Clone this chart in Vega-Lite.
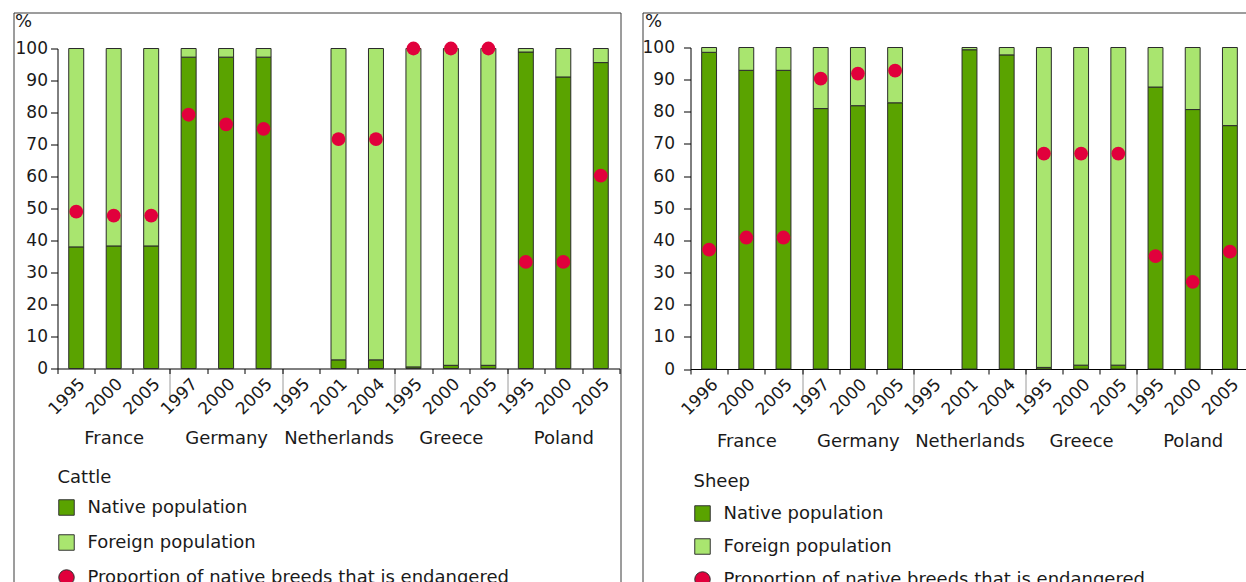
{
  "$schema": "https://vega.github.io/schema/vega-lite/v6.json",
  "padding": {"left": 11.5, "top": 11.5, "right": 0, "bottom": 0},
  "spacing": 19,
  "background": "white",
  "config": {
    "font": "DejaVu Sans",
    "view": {"stroke": null},
    "axis": {"labelColor": "#1a1a1a", "titleColor": "#1a1a1a", "domainColor": "#000", "tickColor": "#000", "grid": false, "domainWidth": 1, "tickWidth": 1}
  },
  "datasets": {
    "cattle": [
      {"key": "France-1995", "country": "France", "year": "1995", "native": 38, "foreign": 62, "endangered": 49},
      {"key": "France-2000", "country": "France", "year": "2000", "native": 38.3, "foreign": 61.7, "endangered": 47.8},
      {"key": "France-2005", "country": "France", "year": "2005", "native": 38.3, "foreign": 61.7, "endangered": 47.8},
      {"key": "Germany-1997", "country": "Germany", "year": "1997", "native": 97.3, "foreign": 2.7, "endangered": 79.3},
      {"key": "Germany-2000", "country": "Germany", "year": "2000", "native": 97.3, "foreign": 2.7, "endangered": 76.3},
      {"key": "Germany-2005", "country": "Germany", "year": "2005", "native": 97.3, "foreign": 2.7, "endangered": 74.9},
      {"key": "Netherlands-2001", "country": "Netherlands", "year": "2001", "native": 2.7, "foreign": 97.3, "endangered": 71.7},
      {"key": "Netherlands-2004", "country": "Netherlands", "year": "2004", "native": 2.7, "foreign": 97.3, "endangered": 71.7},
      {"key": "Greece-1995", "country": "Greece", "year": "1995", "native": 0.5, "foreign": 99.5, "endangered": 100},
      {"key": "Greece-2000", "country": "Greece", "year": "2000", "native": 1, "foreign": 99, "endangered": 100},
      {"key": "Greece-2005", "country": "Greece", "year": "2005", "native": 1, "foreign": 99, "endangered": 100},
      {"key": "Poland-1995", "country": "Poland", "year": "1995", "native": 98.9, "foreign": 1.1, "endangered": 33.3},
      {"key": "Poland-2000", "country": "Poland", "year": "2000", "native": 91.1, "foreign": 8.9, "endangered": 33.3},
      {"key": "Poland-2005", "country": "Poland", "year": "2005", "native": 95.6, "foreign": 4.4, "endangered": 60.3}
    ],
    "sheep": [
      {"key": "France-1996", "country": "France", "year": "1996", "native": 98.5, "foreign": 1.5, "endangered": 37.1},
      {"key": "France-2000", "country": "France", "year": "2000", "native": 92.9, "foreign": 7.1, "endangered": 40.9},
      {"key": "France-2005", "country": "France", "year": "2005", "native": 92.9, "foreign": 7.1, "endangered": 40.9},
      {"key": "Germany-1997", "country": "Germany", "year": "1997", "native": 81.0, "foreign": 19.0, "endangered": 90.3},
      {"key": "Germany-2000", "country": "Germany", "year": "2000", "native": 81.9, "foreign": 18.1, "endangered": 91.9},
      {"key": "Germany-2005", "country": "Germany", "year": "2005", "native": 82.8, "foreign": 17.2, "endangered": 92.8},
      {"key": "Netherlands-2001", "country": "Netherlands", "year": "2001", "native": 99.3, "foreign": 0.7, "endangered": null},
      {"key": "Netherlands-2004", "country": "Netherlands", "year": "2004", "native": 97.7, "foreign": 2.3, "endangered": null},
      {"key": "Greece-1995", "country": "Greece", "year": "1995", "native": 0.5, "foreign": 99.5, "endangered": 67},
      {"key": "Greece-2000", "country": "Greece", "year": "2000", "native": 1.2, "foreign": 98.8, "endangered": 67},
      {"key": "Greece-2005", "country": "Greece", "year": "2005", "native": 1.2, "foreign": 98.8, "endangered": 67},
      {"key": "Poland-1995", "country": "Poland", "year": "1995", "native": 87.7, "foreign": 12.3, "endangered": 35.1},
      {"key": "Poland-2000", "country": "Poland", "year": "2000", "native": 80.7, "foreign": 19.3, "endangered": 27.1},
      {"key": "Poland-2005", "country": "Poland", "year": "2005", "native": 75.7, "foreign": 24.3, "endangered": 36.5}
    ]
  },
  "resolve": {
    "scale": {"color": "independent", "shape": "independent", "x": "independent", "y": "independent"},
    "legend": {"color": "independent", "shape": "independent"}
  },
  "hconcat": [
    {
      "width": 607,
      "height": 570,
      "view": {"stroke": "#3a3a3a", "strokeWidth": 1, "strokeDash": [1177, 607, 570]},
      "data": {"name": "cattle"},
      "transform": [{"fold": ["native", "foreign", "endangered"], "as": ["series", "value"]}],
      "layer": [
        {
          "mark": {"type": "point", "opacity": 0},
          "encoding": {
            "x": {
              "field": "country", "type": "nominal",
              "scale": {"domain": ["France", "Germany", "Netherlands", "Greece", "Poland"], "range": [44, 606], "paddingInner": 0, "paddingOuter": 0},
              "axis": {"title": null, "orient": "bottom", "offset": -214, "domain": false, "ticks": true, "tickBand": "extent", "tickSize": 32, "tickColor": "#9a9a9a", "tickOpacity": {"condition": {"test": "datum.value === 'Poland' || !isValid(datum.value)", "value": 0}, "value": 1}, "labelAngle": 0, "labelFontSize": 18, "labelPadding": 29, "labelBaseline": "top"}
            }
          }
        },
        {
          "layer": [
            {
              "transform": [{"filter": "datum.series !== 'endangered'"}],
              "mark": {"type": "bar", "width": {"band": 0.4}, "stroke": "#2b2b2b", "strokeWidth": 1},
              "encoding": {
                "x": {
                  "field": "key", "type": "nominal",
                  "scale": {"domain": ["France-1995", "France-2000", "France-2005", "Germany-1997", "Germany-2000", "Germany-2005", "Netherlands-1995", "Netherlands-2001", "Netherlands-2004", "Greece-1995", "Greece-2000", "Greece-2005", "Poland-1995", "Poland-2000", "Poland-2005"], "range": [44, 606], "paddingInner": 0, "paddingOuter": 0},
                  "axis": {
                    "title": null, "orient": "bottom", "offset": -214,
                    "labelExpr": "split(datum.label, '-')[1]",
                    "labelAngle": -45, "labelFontSize": 17, "labelPadding": 2, "labelOverlap": false,
                    "tickBand": "extent", "tickSize": 5
                  }
                },
                "y": {
                  "field": "value", "type": "quantitative", "stack": "zero",
                  "scale": {"domain": [0, 100], "range": [356, 36], "nice": false},
                  "axis": {
                    "title": "%", "offset": -44, "values": [0, 10, 20, 30, 40, 50, 60, 70, 80, 90, 100],
                    "tickSize": 7, "labelFontSize": 17, "labelPadding": 3,
                    "titleAngle": 0, "titleX": -43, "titleY": 14, "titleAlign": "left", "titleBaseline": "alphabetic",
                    "titleFontSize": 18, "titleFontWeight": "normal"
                  }
                },
                "color": {
                  "field": "series", "type": "nominal",
                  "scale": {"domain": ["native", "foreign", "endangered"], "range": ["#5aa300", "#a9e56f", "#e1003c"]},
                  "legend": {
                    "title": "Cattle", "orient": "none", "legendX": 44, "legendY": 456, "direction": "vertical", "padding": 0,
                    "titleFontSize": 18, "titleFontWeight": "normal", "titleColor": "#1a1a1a", "titlePadding": 12,
                    "labelFontSize": 18, "labelColor": "#1a1a1a", "labelOffset": 12, "rowPadding": 15, "labelLimit": 600,
                    "symbolSize": 240, "symbolStrokeWidth": 1, "symbolStrokeColor": "#333333", "symbolOpacity": 1,
                    "labelExpr": "datum.label === 'native' ? 'Native population' : datum.label === 'foreign' ? 'Foreign population' : 'Proportion of native breeds that is endangered'"
                  }
                },
                "order": {"field": "series", "sort": "descending"}
              }
            },
            {
              "transform": [{"filter": "datum.series === 'endangered' && isValid(datum.value)"}],
              "mark": {"type": "point", "filled": true, "size": 190, "opacity": 1},
              "encoding": {
                "x": {"field": "key", "type": "nominal"},
                "y": {"field": "value", "type": "quantitative"},
                "color": {"field": "series", "type": "nominal"},
                "shape": {
                  "field": "series", "type": "nominal",
                  "scale": {"domain": ["native", "foreign", "endangered"], "range": ["square", "square", "circle"]},
                  "legend": {
                    "title": "Cattle", "orient": "none", "legendX": 44, "legendY": 456, "direction": "vertical", "padding": 0,
                    "titleFontSize": 18, "titleFontWeight": "normal", "titleColor": "#1a1a1a", "titlePadding": 12,
                    "labelFontSize": 18, "labelColor": "#1a1a1a", "labelOffset": 12, "rowPadding": 15, "labelLimit": 600,
                    "symbolSize": 240, "symbolStrokeWidth": 1, "symbolStrokeColor": "#333333", "symbolOpacity": 1,
                    "labelExpr": "datum.label === 'native' ? 'Native population' : datum.label === 'foreign' ? 'Foreign population' : 'Proportion of native breeds that is endangered'"
                  }
                }
              }
            }
          ]
        }
      ],
      "resolve": {"scale": {"x": "independent"}}
    },
    {
      "width": 606,
      "height": 570,
      "view": {"stroke": "#3a3a3a", "strokeWidth": 1, "strokeDash": [606, 1176, 570]},
      "data": {"name": "sheep"},
      "transform": [{"fold": ["native", "foreign", "endangered"], "as": ["series", "value"]}],
      "layer": [
        {
          "mark": {"type": "point", "opacity": 0},
          "encoding": {
            "x": {
              "field": "country", "type": "nominal",
              "scale": {"domain": ["France", "Germany", "Netherlands", "Greece", "Poland"], "range": [48, 606], "paddingInner": 0, "paddingOuter": 0},
              "axis": {"title": null, "orient": "bottom", "offset": -213.5, "domain": false, "ticks": true, "tickBand": "extent", "tickSize": 32, "tickColor": "#9a9a9a", "tickOpacity": {"condition": {"test": "datum.value === 'Poland' || !isValid(datum.value)", "value": 0}, "value": 1}, "labelAngle": 0, "labelFontSize": 18, "labelPadding": 31, "labelBaseline": "top"}
            }
          }
        },
        {
          "layer": [
            {
              "transform": [{"filter": "datum.series !== 'endangered'"}],
              "mark": {"type": "bar", "width": {"band": 0.4}, "stroke": "#2b2b2b", "strokeWidth": 1},
              "encoding": {
                "x": {
                  "field": "key", "type": "nominal",
                  "scale": {"domain": ["France-1996", "France-2000", "France-2005", "Germany-1997", "Germany-2000", "Germany-2005", "Netherlands-1995", "Netherlands-2001", "Netherlands-2004", "Greece-1995", "Greece-2000", "Greece-2005", "Poland-1995", "Poland-2000", "Poland-2005"], "range": [48, 606], "paddingInner": 0, "paddingOuter": 0},
                  "axis": {
                    "title": null, "orient": "bottom", "offset": -213.5,
                    "labelExpr": "split(datum.label, '-')[1]",
                    "labelAngle": -45, "labelFontSize": 17, "labelPadding": 2, "labelOverlap": false,
                    "tickBand": "extent", "tickSize": 5
                  }
                },
                "y": {
                  "field": "value", "type": "quantitative", "stack": "zero",
                  "scale": {"domain": [0, 100], "range": [356.5, 35], "nice": false},
                  "axis": {
                    "title": "%", "offset": -48, "values": [0, 10, 20, 30, 40, 50, 60, 70, 80, 90, 100],
                    "tickSize": 7, "labelFontSize": 17, "labelPadding": 9,
                    "titleAngle": 0, "titleX": -46, "titleY": 14, "titleAlign": "left", "titleBaseline": "alphabetic",
                    "titleFontSize": 18, "titleFontWeight": "normal"
                  }
                },
                "color": {
                  "field": "series", "type": "nominal",
                  "scale": {"domain": ["native", "foreign", "endangered"], "range": ["#5aa300", "#a9e56f", "#e1003c"]},
                  "legend": {
                    "title": "Sheep", "orient": "none", "legendX": 51, "legendY": 460, "direction": "vertical", "padding": 0,
                    "titleFontSize": 18, "titleFontWeight": "normal", "titleColor": "#1a1a1a", "titlePadding": 14,
                    "labelFontSize": 18, "labelColor": "#1a1a1a", "labelOffset": 12, "rowPadding": 13, "labelLimit": 600,
                    "symbolSize": 240, "symbolStrokeWidth": 1, "symbolStrokeColor": "#333333", "symbolOpacity": 1,
                    "labelExpr": "datum.label === 'native' ? 'Native population' : datum.label === 'foreign' ? 'Foreign population' : 'Proportion of native breeds that is endangered'"
                  }
                },
                "order": {"field": "series", "sort": "descending"}
              }
            },
            {
              "transform": [{"filter": "datum.series === 'endangered' && isValid(datum.value)"}],
              "mark": {"type": "point", "filled": true, "size": 190, "opacity": 1},
              "encoding": {
                "x": {"field": "key", "type": "nominal"},
                "y": {"field": "value", "type": "quantitative"},
                "color": {"field": "series", "type": "nominal"},
                "shape": {
                  "field": "series", "type": "nominal",
                  "scale": {"domain": ["native", "foreign", "endangered"], "range": ["square", "square", "circle"]},
                  "legend": {
                    "title": "Sheep", "orient": "none", "legendX": 51, "legendY": 460, "direction": "vertical", "padding": 0,
                    "titleFontSize": 18, "titleFontWeight": "normal", "titleColor": "#1a1a1a", "titlePadding": 14,
                    "labelFontSize": 18, "labelColor": "#1a1a1a", "labelOffset": 12, "rowPadding": 13, "labelLimit": 600,
                    "symbolSize": 240, "symbolStrokeWidth": 1, "symbolStrokeColor": "#333333", "symbolOpacity": 1,
                    "labelExpr": "datum.label === 'native' ? 'Native population' : datum.label === 'foreign' ? 'Foreign population' : 'Proportion of native breeds that is endangered'"
                  }
                }
              }
            }
          ]
        }
      ],
      "resolve": {"scale": {"x": "independent"}}
    }
  ]
}
